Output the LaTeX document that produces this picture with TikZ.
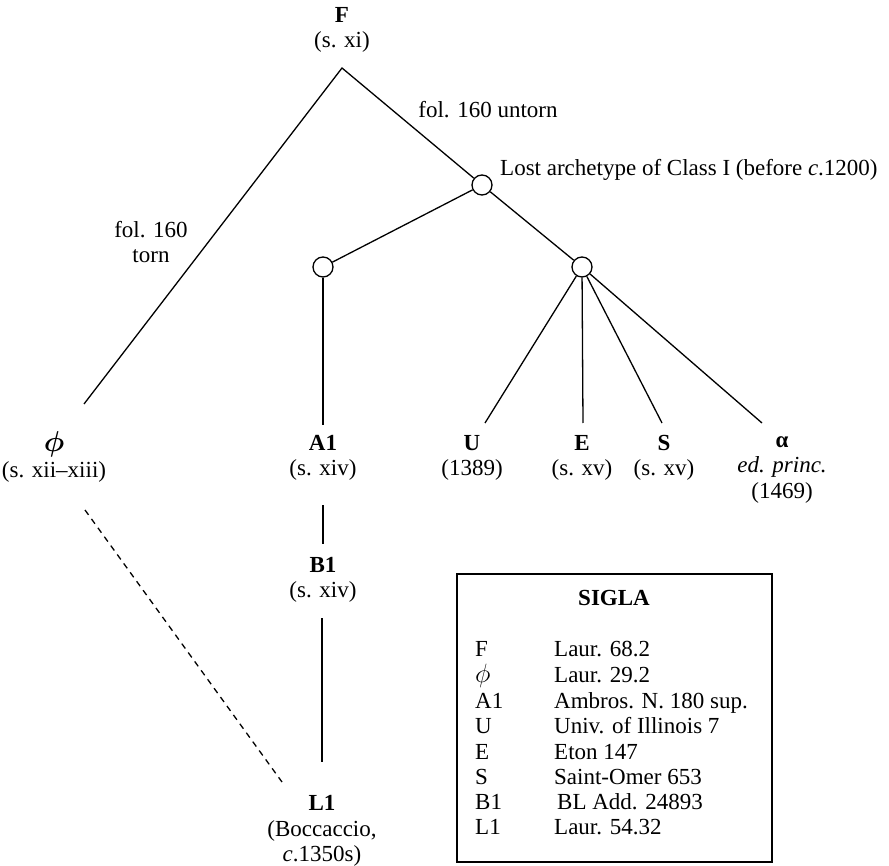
\documentclass[tikz,border=0pt]{standalone}
\usepackage{fix-cm}
\usepackage{amsmath,bm}
\usepackage{fontspec}
\setmainfont{Liberation Serif}
\begin{document}
\begin{tikzpicture}[x=1pt,y=-1pt,
  txt/.style={inner sep=0pt,align=center,font=\fontsize{23}{25.5}\selectfont},
  ln/.style={line width=1.3pt},
  hub/.style={circle,draw,line width=1.3pt,minimum size=20pt,inner sep=0pt}]
\useasboundingbox (0,0) rectangle (889,866);
% labels
\node[txt] (F) at (342,30) {\textbf{F}\\(s. xi)};
\node[txt] (phi) at (54,457) {\scalebox{1.25}{$\bm{\phi}$}\\(s. xii–xiii)};
\node[txt] (A1) at (323,458) {\textbf{A1}\\(s. xiv)};
\node[txt] (B1) at (323,580) {\textbf{B1}\\(s. xiv)};
\node[txt] (L1) at (322,831) {\textbf{L1}\\(Boccaccio,\\\textit{c}.1350s)};
\node[txt] (U) at (472,458) {\textbf{U}\\(1389)};
\node[txt] (E) at (582,458) {\textbf{E}\\(s. xv)};
\node[txt] (S) at (664,458) {\textbf{S}\\(s. xv)};
\node[txt] (al) at (782,470) {\textbf{α}\\\textit{ed. princ.}\\(1469)};
\node[txt] (untorn) at (488,110) {fol. 160 untorn};
\node[txt] (torn) at (151,242) {fol. 160\\torn};
\node[txt,anchor=west] (lost) at (500,170) {Lost archetype of Class I (before \textit{c}.1200)};
% hubs
\node[hub] (c0) at (482,185) {};
\node[hub] (c1) at (323,267) {};
\node[hub] (c2) at (582,267) {};
% coordinates
\coordinate (apex) at (342,68);
\coordinate (phitop) at (84,404);
\coordinate (phibot) at (85,510);
\coordinate (a1top) at (323,425);
\coordinate (a1bot) at (323,505);
\coordinate (b1top) at (323,544);
\coordinate (b1bot) at (322,618);
\coordinate (l1top) at (322,762);
\coordinate (l1dash) at (282,782);
\coordinate (utop) at (485,423);
\coordinate (etop) at (583,423);
\coordinate (stop) at (662,423);
\coordinate (altop) at (762,423);
% connectors
\draw[ln] (phitop) -- (apex) -- (c0);
\draw[ln] (c0) -- (c1);
\draw[ln] (c0) -- (c2);
\draw[ln] (c1) -- (a1top);
\draw[ln] (c2) -- (utop);
\draw[ln] (c2) -- (etop);
\draw[ln] (c2) -- (stop);
\draw[ln] (c2) -- (altop);
\draw[ln] (a1bot) -- (b1top);
\draw[ln] (b1bot) -- (l1top);
\draw[ln,dash pattern=on 6pt off 5pt] (phibot) -- (l1dash);
% sigla box
\draw[ln] (457,574) rectangle (772,862);
\node[txt] (sig) at (614,598) {\textbf{SIGLA}};
\foreach \k/\a/\b/\y in {sF/F/Laur. 68.2/651, sp/\scalebox{1.15}{$\phi$}/Laur. 29.2/677, sa/A1/Ambros. N. 180 sup./703, su/U/Univ. of Illinois 7/728, se/E/Eton 147/754, ss/S/Saint-Omer 653/779, sb/B1/\hspace{3pt}BL Add. 24893/804, sl/L1/Laur. 54.32/829}{
  \node[txt,anchor=west] (\k a) at (475,\y) {\strut\a};
  \node[txt,anchor=west] (\k b) at (554,\y) {\strut\b};
}
\end{tikzpicture}
\end{document}
